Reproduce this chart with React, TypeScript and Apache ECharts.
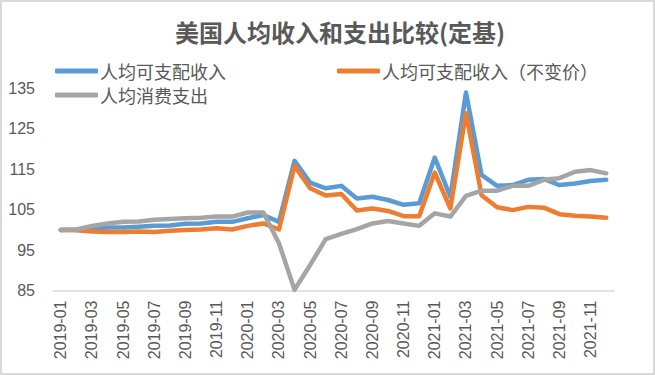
import React, { useEffect, useRef } from "react";
import * as echarts from "echarts";

const categories = [
  "2019-01", "2019-02", "2019-03", "2019-04", "2019-05", "2019-06",
  "2019-07", "2019-08", "2019-09", "2019-10", "2019-11", "2019-12",
  "2020-01", "2020-02", "2020-03", "2020-04", "2020-05", "2020-06",
  "2020-07", "2020-08", "2020-09", "2020-10", "2020-11", "2020-12",
  "2021-01", "2021-02", "2021-03", "2021-04", "2021-05", "2021-06",
  "2021-07", "2021-08", "2021-09", "2021-10", "2021-11", "2021-12",
];

const disposableIncome = [
  100, 100.1, 100.3, 100.6, 100.6, 100.8, 101.0, 101.1, 101.5, 101.6, 102.0, 102.0,
  102.9, 103.7, 102.0, 117.1, 111.7, 110.3, 110.9, 107.8, 108.2, 107.4, 106.2, 106.6,
  117.9, 108.2, 134.0, 113.6, 110.9, 111.1, 112.4, 112.6, 111.1, 111.5, 112.1, 112.4,
];

const realDisposableIncome = [
  100, 99.9, 99.6, 99.5, 99.5, 99.6, 99.5, 99.8, 100.0, 100.1, 100.4, 100.1,
  101.0, 101.6, 100.1, 115.8, 110.3, 108.5, 108.9, 104.8, 105.3, 104.7, 103.4, 103.4,
  114.2, 105.3, 128.9, 108.6, 105.6, 104.9, 105.7, 105.5, 103.9, 103.5, 103.3, 103.0,
];

const consumption = [
  100, 100.1, 101.0, 101.6, 102.0, 102.1, 102.5, 102.7, 102.9, 103.0, 103.3, 103.3,
  104.3, 104.3, 96.7, 85.2, 91.3, 97.7, 99.0, 100.2, 101.6, 102.2, 101.6, 101.0,
  104.1, 103.3, 108.4, 109.7, 109.7, 110.9, 110.9, 112.4, 112.8, 114.4, 114.8, 114.0,
];

const seriesNames = ["人均可支配收入", "人均可支配收入（不变价）", "人均消费支出"];
const colors = ["#5B9BD5", "#ED7D31", "#A5A5A5"];
const titleText = "美国人均收入和支出比较(定基)";

const TEXT = "#595959";
const FONT = "'Noto Sans CJK SC', 'Noto Sans', sans-serif";

export default function App() {
  const ref = useRef<HTMLDivElement>(null);

  useEffect(() => {
    if (!ref.current) return;
    const chart = echarts.init(ref.current, undefined, { renderer: "svg" });
    const legendBase = {
      orient: "horizontal" as const,
      padding: 0,
      itemWidth: 43,
      itemHeight: 5,
      itemGap: 0,
      icon: "roundRect",
      textStyle: { color: TEXT, fontSize: 18, fontFamily: FONT, padding: [0, 0, 0, -3] },
    };
    const datas = [disposableIncome, realDisposableIncome, consumption];
    chart.setOption({
      animation: false,
      backgroundColor: "transparent",
      title: {
        text: titleText,
        left: 335,
        textAlign: "center",
        top: 14,
        textStyle: { color: TEXT, fontSize: 24, fontWeight: "bold", fontFamily: FONT },
      },
      legend: [
        { ...legendBase, data: [seriesNames[0]], left: 55, top: 62 },
        { ...legendBase, data: [seriesNames[1]], left: 337, top: 62 },
        { ...legendBase, data: [seriesNames[2]], left: 55, top: 86 },
      ],
      grid: { left: 53, right: 41, top: 88.5, bottom: 84.5, containLabel: false },
      xAxis: {
        type: "category",
        data: categories,
        boundaryGap: true,
        axisLine: { show: true, lineStyle: { color: "#D9D9D9", width: 1.5 } },
        axisTick: { show: false },
        axisLabel: {
          interval: 1,
          rotate: 90,
          margin: 10,
          color: TEXT,
          fontSize: 16,
          fontFamily: "'Liberation Sans', Arial, sans-serif",
        },
        splitLine: { show: false },
      },
      yAxis: {
        type: "value",
        min: 85,
        max: 135,
        interval: 10,
        axisLine: { show: false },
        axisTick: { show: false },
        splitLine: { show: false },
        axisLabel: {
          color: TEXT,
          fontSize: 16,
          margin: 18,
          fontFamily: "'Liberation Sans', Arial, sans-serif",
        },
      },
      series: seriesNames.map((name, i) => ({
        name,
        type: "line",
        data: datas[i],
        showSymbol: false,
        symbol: "none",
        color: colors[i],
        lineStyle: { width: 4.5, color: colors[i], join: "round", cap: "round" },
      })),
    });
    return () => chart.dispose();
  }, []);

  return (
    <div
      style={{
        position: "fixed",
        left: 0,
        top: 0,
        width: 655,
        height: 375,
        boxSizing: "border-box",
        border: "2px solid #D9D9D9",
        background: "#fff",
      }}
    >
      <div ref={ref} style={{ position: "absolute", left: -2, top: -2, width: 655, height: 375 }} />
    </div>
  );
}
